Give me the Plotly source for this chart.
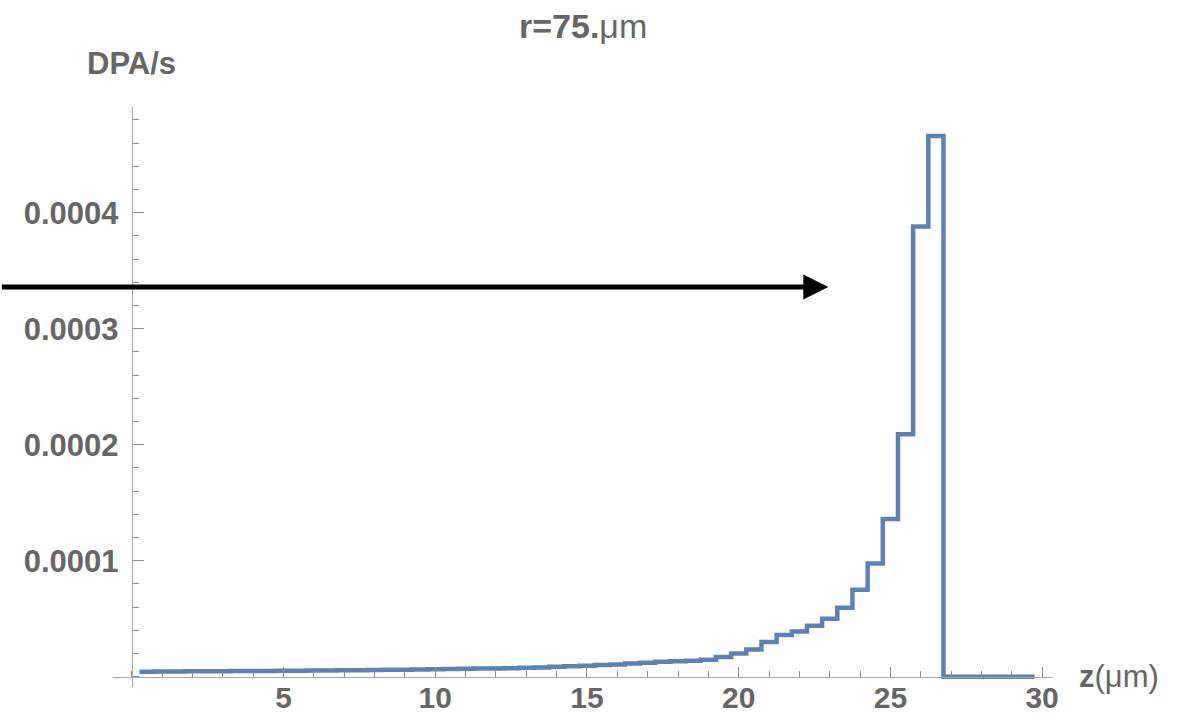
import plotly.graph_objects as go

# Bin centres (z in µm) and DPA/s values
bin_centers = [0.5 * k for k in range(1, 60)]
bin_width = 0.5
dpa_values = [
    0.43e-5, 0.44e-5, 0.45e-5, 0.46e-5, 0.47e-5, 0.475e-5, 0.48e-5, 0.49e-5, 0.50e-5, 0.51e-5,
    0.52e-5, 0.53e-5, 0.54e-5, 0.55e-5, 0.56e-5, 0.57e-5, 0.59e-5, 0.60e-5, 0.62e-5, 0.64e-5,
    0.66e-5, 0.68e-5, 0.70e-5, 0.71e-5, 0.72e-5, 0.76e-5, 0.80e-5, 0.85e-5, 0.90e-5, 0.95e-5,
    1.00e-5, 1.06e-5, 1.13e-5, 1.20e-5, 1.28e-5, 1.33e-5, 1.38e-5, 1.45e-5, 1.70e-5, 2.00e-5,
    2.35e-5, 3.00e-5, 3.60e-5, 3.90e-5, 4.40e-5, 5.00e-5, 5.95e-5, 7.50e-5, 9.75e-5, 13.6e-5,
    20.9e-5, 38.8e-5, 46.6e-5, 0.0, 0.0, 0.0, 0.0, 0.0, 0.0,
]

x_tick_vals = [5, 10, 15, 20, 25, 30]
y_tick_vals = [0.0001, 0.0002, 0.0003, 0.0004]
y_tick_text = ["0.0001", "0.0002", "0.0003", "0.0004"]

title_main = "r=75."
title_unit = "μm"
y_label = "DPA/s"
x_label_var = "z"
x_label_unit = "(μm)"

arrow_tip = (22.955, 3.36e-4)

# step outline from bin edges
edges = [c - bin_width / 2 for c in bin_centers] + [bin_centers[-1] + bin_width / 2]
step_y = dpa_values + [dpa_values[-1]]

XMIN, XMAX = -0.623, 30.36
YMIN, YMAX = -0.089e-4, 4.911e-4

FONT = "Liberation Sans, Arial, sans-serif"
GRAY = "#666666"
AXIS = "#a8a8a8"
TICK = "#8a8a8a"

fig = go.Figure()
fig.add_trace(go.Scatter(
    x=edges, y=step_y, mode="lines", line_shape="hv",
    line=dict(color="#5E81B5", width=4.5),
    hoverinfo="skip", showlegend=False,
))

fig.update_layout(
    width=1190, height=717,
    margin=dict(l=113, r=137, t=107, b=30, autoexpand=False),
    paper_bgcolor="white", plot_bgcolor="white",
    showlegend=False,
    font=dict(family=FONT, color=GRAY),
)

fig.update_xaxes(
    range=[XMIN, XMAX], anchor="free", position=(0 - YMIN) / (YMAX - YMIN),
    automargin=False,
    showgrid=False, zeroline=False, showline=True, linecolor=AXIS, linewidth=1.3,
    ticks="inside", ticklen=10, tickwidth=1.2, tickcolor=TICK,
    tickvals=x_tick_vals, ticktext=[f"<b>{v}</b>" for v in x_tick_vals],
    tickfont=dict(size=30, family=FONT, color=GRAY),
    minor=dict(dtick=1, tick0=0, ticklen=6, tickwidth=1.2, tickcolor=TICK, ticks="inside", showgrid=False),
    ticklabelstandoff=-6,
)
fig.update_yaxes(
    range=[YMIN, YMAX], anchor="free", position=(0 - XMIN) / (XMAX - XMIN),
    automargin=False,
    showgrid=False, zeroline=False, showline=True, linecolor=AXIS, linewidth=1.3,
    ticks="inside", ticklen=11, tickwidth=1.2, tickcolor=TICK,
    tickvals=y_tick_vals, ticktext=[f"<b>{t}</b>" for t in y_tick_text],
    tickfont=dict(size=31, family=FONT, color=GRAY),
    minor=dict(dtick=2e-5, tick0=0, ticklen=6, tickwidth=1.2, tickcolor=TICK, ticks="inside", showgrid=False),
    ticklabelstandoff=7,
)

# title and axis labels
fig.add_annotation(text=f"<b>{title_main}</b>{title_unit}", xref="paper", yref="paper",
                   x=0.5, y=1, yshift=81, xanchor="center", yanchor="middle",
                   showarrow=False, font=dict(size=34, family=FONT, color=GRAY))
fig.add_annotation(text=f"<b>{y_label}</b>", xref="x", yref="paper",
                   x=XMIN, y=1, xshift=18, yshift=44, xanchor="center", yanchor="middle",
                   showarrow=False, font=dict(size=31, family=FONT, color=GRAY))
fig.add_annotation(text=f"<b>{x_label_var}</b>{x_label_unit}", xref="paper", yref="y",
                   x=1, y=0, xshift=24, xanchor="left", yanchor="middle",
                   showarrow=False, font=dict(size=31, family=FONT, color=GRAY))

# black arrow from the left edge
fig.add_annotation(x=arrow_tip[0], y=arrow_tip[1], xref="x", yref="y",
                   ax=-828, ay=0, text="", showarrow=True,
                   arrowhead=2, arrowsize=1.0, arrowwidth=5, arrowcolor="black", standoff=0)

fig.write_html("out.html", config={"displayModeBar": False},
               post_script="document.body.style.margin='0';document.body.style.overflow='hidden';")
